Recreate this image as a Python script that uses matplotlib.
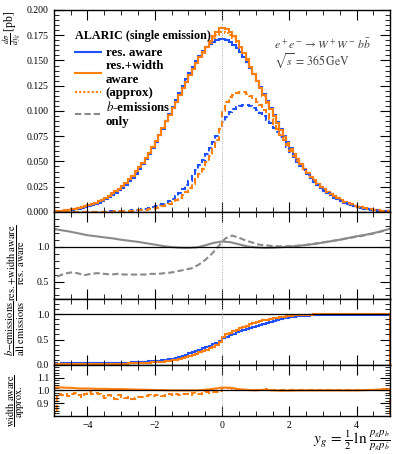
import numpy as np
import matplotlib
matplotlib.use("Agg")
import matplotlib.pyplot as plt
from matplotlib.ticker import MultipleLocator, FixedLocator

plt.rcParams["font.family"] = ["Liberation Serif", "DejaVu Serif"]
plt.rcParams["mathtext.fontset"] = "stix"

# ---- data (bins of 0.1 from -5 to 5) ----
bin_edges = np.linspace(-5.0, 5.0, 101)

# res. aware, all emissions
res_aware = [
    0.0006, 0.0008, 0.0010, 0.0013, 0.0017, 0.0021, 0.0026, 0.0032, 0.0039, 0.0047,
    0.0056, 0.0067, 0.0079, 0.0093, 0.0108, 0.0125, 0.0144, 0.0165, 0.0188, 0.0213,
    0.0240, 0.0270, 0.0303, 0.0340, 0.0380, 0.0425, 0.0470, 0.0520, 0.0574, 0.0632,
    0.0692, 0.0758, 0.0826, 0.0896, 0.0967, 0.1037, 0.1108, 0.1179, 0.1248, 0.1316,
    0.1380, 0.1440, 0.1496, 0.1546, 0.1590, 0.1630, 0.1660, 0.1685, 0.1700, 0.1710,
    0.1712, 0.1702, 0.1684, 0.1657, 0.1624, 0.1582, 0.1535, 0.1484, 0.1426, 0.1365,
    0.1300, 0.1233, 0.1164, 0.1094, 0.1025, 0.0957, 0.0889, 0.0822, 0.0756, 0.0692,
    0.0632, 0.0574, 0.0520, 0.0470, 0.0425, 0.0380, 0.0340, 0.0303, 0.0270, 0.0240,
    0.0213, 0.0188, 0.0165, 0.0144, 0.0125, 0.0108, 0.0093, 0.0079, 0.0067, 0.0056,
    0.0047, 0.0039, 0.0032, 0.0026, 0.0021, 0.0017, 0.0013, 0.0010, 0.0008, 0.0006,
]
# res.+width aware, all emissions
width_aware = [
    0.00075, 0.0010, 0.0012, 0.0016, 0.0021, 0.0026, 0.0031, 0.0038, 0.0046, 0.0055,
    0.0066, 0.0078, 0.0091, 0.0106, 0.0123, 0.0141, 0.0161, 0.0183, 0.0207, 0.0232,
    0.0260, 0.0290, 0.0324, 0.0360, 0.0401, 0.0444, 0.0489, 0.0536, 0.0588, 0.0645,
    0.0702, 0.0766, 0.0830, 0.0896, 0.0962, 0.1027, 0.1091, 0.1158, 0.1223, 0.1290,
    0.1352, 0.1414, 0.1474, 0.1531, 0.1582, 0.1638, 0.1693, 0.1744, 0.1785, 0.1818,
    0.1826, 0.1811, 0.1786, 0.1743, 0.1695, 0.1638, 0.1577, 0.1511, 0.1440, 0.1370,
    0.1300, 0.1229, 0.1158, 0.1086, 0.1016, 0.0948, 0.0880, 0.0813, 0.0747, 0.0685,
    0.0628, 0.0572, 0.0520, 0.0472, 0.0429, 0.0388, 0.0349, 0.0312, 0.0281, 0.0251,
    0.0224, 0.0199, 0.0175, 0.0154, 0.0135, 0.0117, 0.0101, 0.0087, 0.0074, 0.0063,
    0.0053, 0.0044, 0.0037, 0.0030, 0.0025, 0.0020, 0.0016, 0.0012, 0.0010, 0.0008,
]
# res.+width aware (approx), all emissions
width_approx = [
    0.00073, 0.0010, 0.0012, 0.0016, 0.0021, 0.0025, 0.0030, 0.0037, 0.0045, 0.0054,
    0.0065, 0.0077, 0.0090, 0.0105, 0.0122, 0.0140, 0.0160, 0.0181, 0.0205, 0.0230,
    0.0258, 0.0288, 0.0322, 0.0358, 0.0399, 0.0442, 0.0487, 0.0534, 0.0586, 0.0643,
    0.0700, 0.0764, 0.0829, 0.0895, 0.0962, 0.1027, 0.1091, 0.1158, 0.1223, 0.1290,
    0.1352, 0.1414, 0.1474, 0.1531, 0.1578, 0.1630, 0.1678, 0.1722, 0.1755, 0.1780,
    0.1785, 0.1775, 0.1755, 0.1720, 0.1680, 0.1625, 0.1570, 0.1507, 0.1438, 0.1370,
    0.1300, 0.1225, 0.1150, 0.1083, 0.1015, 0.0948, 0.0880, 0.0813, 0.0748, 0.0686,
    0.0628, 0.0572, 0.0520, 0.0472, 0.0429, 0.0388, 0.0349, 0.0312, 0.0281, 0.0251,
    0.0224, 0.0199, 0.0175, 0.0154, 0.0135, 0.0117, 0.0101, 0.0087, 0.0074, 0.0063,
    0.0053, 0.0044, 0.0037, 0.0030, 0.0025, 0.0020, 0.0016, 0.0012, 0.0010, 0.0008,
]
# b-emissions only
res_aware_b = [
    0.00002, 0.00002, 0.00003, 0.00004, 0.00005, 0.00006, 0.00008, 0.00010, 0.00012, 0.00014,
    0.00017, 0.00020, 0.00024, 0.00029, 0.00035, 0.00041, 0.00049, 0.00058, 0.00068, 0.00081,
    0.00096, 0.00113, 0.00136, 0.00163, 0.00198, 0.00238, 0.00282, 0.00338, 0.00402, 0.00474,
    0.00554, 0.00652, 0.00768, 0.00896, 0.01064, 0.01296, 0.01551, 0.01886, 0.02246, 0.02632,
    0.03105, 0.03600, 0.04114, 0.04638, 0.05168, 0.05705, 0.06308, 0.06909, 0.07480, 0.08208,
    0.0890, 0.0945, 0.0985, 0.1019, 0.1039, 0.1052, 0.1059, 0.1061, 0.1048, 0.1031,
    0.1008, 0.0980, 0.0949, 0.0913, 0.0876, 0.0833, 0.0787, 0.0740, 0.0692, 0.0644,
    0.0594, 0.0544, 0.0497, 0.0452, 0.0411, 0.0369, 0.0332, 0.0297, 0.0265, 0.0236,
    0.02104, 0.01857, 0.01630, 0.01423, 0.01235, 0.01067, 0.00919, 0.00780, 0.00662, 0.00553,
    0.00464, 0.00385, 0.00316, 0.00257, 0.00207, 0.00168, 0.00128, 0.00099, 0.00079, 0.00059,
]
width_aware_b = [
    0.000012, 0.000015, 0.000018, 0.000024, 0.000032, 0.000039, 0.000047, 0.000057, 0.000069, 0.000083,
    0.00010, 0.000125, 0.000155, 0.00019, 0.00023, 0.00028, 0.00034, 0.00040, 0.00048, 0.00056,
    0.00065, 0.00078, 0.00094, 0.00112, 0.00132, 0.00160, 0.00191, 0.00225, 0.00270, 0.00323,
    0.00386, 0.00460, 0.00548, 0.00654, 0.00789, 0.00945, 0.01146, 0.01390, 0.01651, 0.02000,
    0.02366, 0.02757, 0.03243, 0.03751, 0.04271, 0.04914, 0.05587, 0.06278, 0.07140, 0.08181,
    0.1004, 0.1087, 0.1134, 0.1159, 0.1178, 0.1188, 0.1183, 0.1171, 0.1152, 0.1123,
    0.1092, 0.1057, 0.1013, 0.0967, 0.0919, 0.0870, 0.0818, 0.0764, 0.0710, 0.0658,
    0.0607, 0.0557, 0.0509, 0.0464, 0.0423, 0.0383, 0.0346, 0.0310, 0.0279, 0.0250,
    0.02231, 0.01982, 0.01743, 0.01534, 0.01345, 0.01165, 0.01006, 0.00867, 0.00737, 0.00627,
    0.00528, 0.00438, 0.00369, 0.00299, 0.00249, 0.00199, 0.00159, 0.00120, 0.00100, 0.00080,
]

# ratio res.+width aware / res. aware
ratio_x = np.linspace(-5.0, 5.0, 41)
ratio_all = [
    1.255, 1.235, 1.215, 1.19, 1.165, 1.15, 1.135, 1.12, 1.10, 1.085,
    1.07, 1.05, 1.03, 1.01, 0.995, 0.985, 0.983, 0.99, 1.02, 1.055,
    1.075, 1.065, 1.035, 1.005, 0.99, 0.983, 0.985, 0.992, 1.0, 1.012,
    1.025, 1.04, 1.06, 1.08, 1.10, 1.125, 1.15, 1.17, 1.195, 1.225, 1.26,
]
ratio_b_x = np.linspace(-4.9, 4.9, 50)
ratio_b = [
    0.57, 0.61, 0.63, 0.62, 0.59, 0.61, 0.62, 0.61, 0.60, 0.61,
    0.60, 0.60, 0.60, 0.60, 0.61, 0.61, 0.62, 0.63, 0.65, 0.67,
    0.69, 0.74, 0.81, 0.90, 1.01, 1.12, 1.16, 1.13, 1.09, 1.06,
    1.03, 1.02, 1.01, 1.005, 1.005, 1.01, 1.015, 1.025, 1.04, 1.055,
    1.07, 1.085, 1.10, 1.12, 1.135, 1.15, 1.17, 1.19, 1.215, 1.245,
]
# width aware / approx
approx_ratio_all = [
    1.025, 1.022, 1.02, 1.015, 1.015, 1.012, 1.012, 1.01, 1.01, 1.008,
    1.006, 1.005, 1.003, 1.002, 1.0, 1.0, 1.0, 1.0, 1.005, 1.012,
    1.022, 1.02, 1.01, 1.003, 1.0, 1.005, 1.0, 0.998, 0.998, 1.0,
    1.0, 1.0, 1.0, 1.0, 1.0, 1.0, 1.0, 1.002, 1.004, 1.007, 1.01,
]
approx_ratio_b = [
    0.82, 0.97, 0.96, 0.975, 0.955, 0.97, 0.98, 0.965, 0.95, 0.97,
    0.985, 0.975, 0.98, 0.97, 0.955, 0.94, 0.965, 0.95, 0.935, 0.96,
    0.95, 0.94, 0.945, 0.93, 0.94, 0.95, 0.945, 0.955, 0.96, 0.955,
    0.96, 0.965, 0.955, 0.96, 0.97, 0.965, 0.975, 0.96, 0.975, 0.97,
    0.965, 0.98, 0.975, 0.97, 0.98, 0.985, 0.98, 0.99, 0.985, 0.995,
    1.015, 1.02, 1.015, 1.01, 1.005, 1.005, 1.0, 1.0, 1.0, 1.0,
    1.0, 1.0, 1.0, 1.01, 1.0, 1.0, 1.0, 1.0, 1.0, 1.0,
    1.0, 1.0, 1.0, 1.0, 1.0, 1.0, 1.0, 1.0, 1.0, 1.0,
    1.0, 1.0, 1.0, 1.0, 1.0, 1.0, 1.0, 1.0, 1.0, 1.0,
    1.002, 1.003, 1.003, 1.004, 1.005, 1.005, 1.006, 1.007, 1.008, 1.01,
]

blue = "#1f50ff"
orange = "#ff7f0e"
grey = "#8a8a8a"

fig = plt.figure(figsize=(3.93, 4.54), dpi=100)
gs = fig.add_gridspec(4, 1, height_ratios=[202, 87, 66, 51], hspace=0,
                      left=0.137, right=0.993, top=0.978, bottom=0.084)
ax0 = fig.add_subplot(gs[0])
ax1 = fig.add_subplot(gs[1], sharex=ax0)
ax2 = fig.add_subplot(gs[2], sharex=ax0)
ax3 = fig.add_subplot(gs[3], sharex=ax0)

# main panel
ax0.stairs(res_aware, bin_edges, color=blue, lw=1.5, label="res. aware")
ax0.stairs(width_aware, bin_edges, color=orange, lw=1.5, label="res.+width\naware")
ax0.stairs(width_approx, bin_edges, color=orange, lw=1.5, ls=(0, (1, 1)), label="(approx)")
ax0.stairs(res_aware_b, bin_edges, color=blue, lw=1.5, ls=(0, (3, 1.5)))
ax0.stairs(width_aware_b, bin_edges, color=orange, lw=1.5, ls=(0, (3, 1.5)))
ax0.plot([], [], color=grey, lw=1.5, ls=(0, (3, 1.5)), label="$b$-emissions\nonly")
ax0.set_ylim(0, 0.2)
ax0.yaxis.set_major_locator(MultipleLocator(0.025))
ax0.yaxis.set_minor_locator(MultipleLocator(0.005))
ax0.yaxis.set_major_formatter(plt.FormatStrFormatter("%.3f"))
ax0.set_ylabel(r"$\frac{d\sigma}{dy_g}\,$[pb]", fontsize=8.5, loc="top")
ax0.yaxis.set_label_coords(-0.09, 1.0)
leg = ax0.legend(loc="upper left", bbox_to_anchor=(0.045, 0.935), frameon=False,
                 title="ALARIC (single emission)", alignment="left",
                 prop={"size": 9.3, "weight": "bold"}, handlelength=2.0,
                 handletextpad=0.35, labelspacing=0.08, borderpad=0)
leg.get_title().set_fontsize(8.7)
leg.get_title().set_fontweight("bold")
leg._legend_box.sep = 4
ax0.text(0.653, 0.827, r"$e^+e^- \to W^+W^-\,b\bar{b}$", transform=ax0.transAxes,
         fontsize=8.5, color="#444444", va="center")
ax0.text(0.653, 0.752, r"$\sqrt{s}\,=\,365\,\mathrm{GeV}$", transform=ax0.transAxes,
         fontsize=8.5, color="#444444", va="center")

# ratio panel 1
ax1.plot(ratio_x, ratio_all, color=grey, lw=1.5)
ax1.plot(ratio_b_x, ratio_b, color=grey, lw=1.5, ls=(0, (3, 1.5)))
ax1.axhline(1.0, color="black", lw=0.9)
ax1.set_ylim(0.25, 1.5)
ax1.yaxis.set_major_locator(FixedLocator([0.5, 1.0]))
ax1.yaxis.set_minor_locator(MultipleLocator(0.1))
ax1.set_ylabel(r"$\dfrac{\mathrm{res.\!+\!width\ aware}}{\mathrm{res.\ aware}}$", fontsize=7.5)
ax1.yaxis.set_label_coords(-0.08, 0.42)

# ratio panel 2
frac_res = np.divide(res_aware_b, res_aware)
frac_width = np.divide(width_aware_b, width_aware)
ax2.stairs(frac_res, bin_edges, color=blue, lw=1.5)
ax2.stairs(frac_width, bin_edges, color=orange, lw=1.5)
ax2.axhline(1.0, color="black", lw=0.9)
ax2.set_ylim(0.0, 1.3)
ax2.yaxis.set_major_locator(FixedLocator([0.0, 0.5, 1.0]))
ax2.yaxis.set_minor_locator(MultipleLocator(0.1))
ax2.set_ylabel(r"$\dfrac{b\mathrm{-emissions}}{\mathrm{all\ emissions}}$", fontsize=7.5)
ax2.yaxis.set_label_coords(-0.08, 0.55)

# ratio panel 3
ax3.plot(ratio_x, approx_ratio_all, color=orange, lw=1.5)
ax3.stairs(approx_ratio_b, bin_edges, color=orange, lw=1.5, ls=(0, (3, 1.5)))
ax3.axhline(1.0, color="black", lw=0.9)
ax3.set_ylim(0.8, 1.2)
ax3.yaxis.set_major_locator(FixedLocator([0.9, 1.0, 1.1]))
ax3.yaxis.set_minor_locator(MultipleLocator(0.02))
ax3.set_ylabel(r"$\dfrac{\mathrm{width\ aware}}{\mathrm{approx.}}$", fontsize=7.5)
ax3.yaxis.set_label_coords(-0.08, 0.3)
ax3.set_xlabel(r"$y_g\,=\,\frac{1}{2}\,\ln\,\frac{p_g p_b}{p_g p_{\bar{b}}}$", fontsize=11,
               loc="right")
ax3.xaxis.set_label_coords(1.0, -0.25)
ax3.xaxis.label.set_va("top")

for ax in (ax0, ax1, ax2, ax3):
    ax.axvline(0.0, color="#999999", lw=0.6, ls=":")
    ax.set_xlim(-5, 5)
    ax.xaxis.set_major_locator(MultipleLocator(2))
    ax.xaxis.set_minor_locator(MultipleLocator(0.5))
    ax.tick_params(which="both", direction="in", top=True, right=True, labelsize=7)
    ax.tick_params(which="major", length=7, width=0.8)
    ax.tick_params(which="minor", length=3.5, width=0.6)
    for s in ax.spines.values():
        s.set_linewidth(1.0)
for ax in (ax0, ax1, ax2):
    ax.tick_params(labelbottom=False)

fig.savefig("out.png", dpi=100)
